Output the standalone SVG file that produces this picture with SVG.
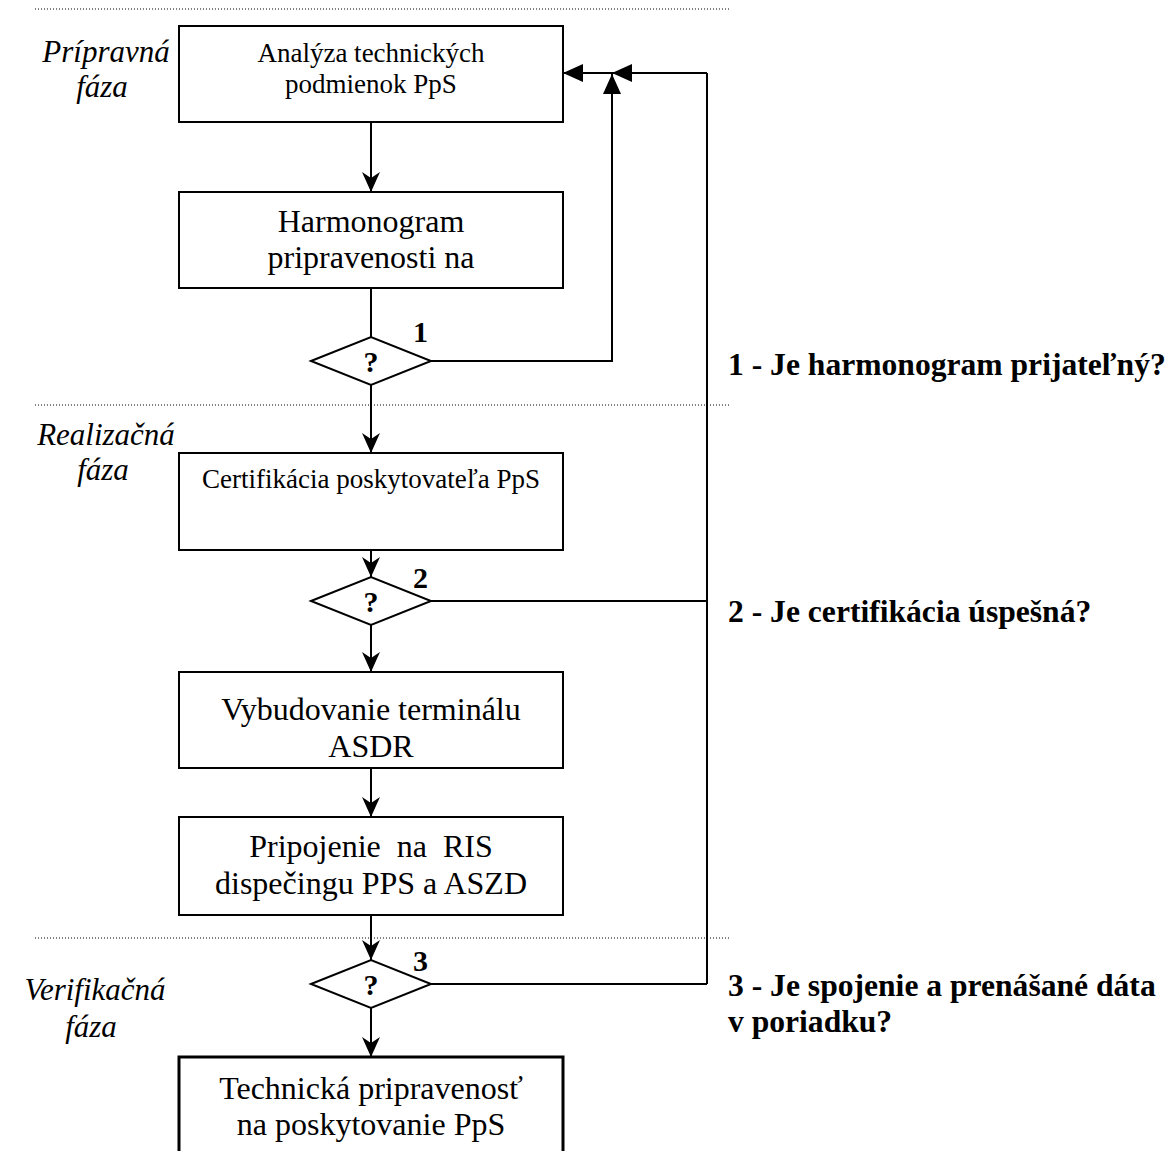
<svg xmlns="http://www.w3.org/2000/svg" width="1172" height="1151" viewBox="0 0 1172 1151">
<style>
.box{fill:#fff;stroke:#000;stroke-width:2}
.boxb{fill:#fff;stroke:#000;stroke-width:3}
.dia{fill:#fff;stroke:#000;stroke-width:2}
.ln{fill:none;stroke:#000;stroke-width:2}
.dot{fill:none;stroke:#000;stroke-width:1;stroke-dasharray:1 2}
.t{font-family:"Liberation Serif","Times New Roman",serif;fill:#000;text-anchor:middle;white-space:pre}
.tb{font-size:32px}
.ts{font-size:27px}
.ph{font-family:"Liberation Serif","Times New Roman",serif;font-style:italic;font-size:31px;text-anchor:middle;fill:#000}
.q{font-family:"Liberation Serif","Times New Roman",serif;font-weight:bold;font-size:30px;text-anchor:middle;fill:#000}
.n{font-family:"Liberation Serif","Times New Roman",serif;font-weight:bold;font-size:30px;fill:#000}
.lab{font-family:"Liberation Serif","Times New Roman",serif;font-weight:bold;font-size:31.6px;fill:#000}
</style>
<defs>
<marker id="tri" viewBox="0 0 20 20" refX="20" refY="10" markerWidth="20" markerHeight="20" markerUnits="userSpaceOnUse" orient="auto"><path d="M0,1 L20,10 L0,19 Z" fill="#000"/></marker>
<marker id="st" viewBox="0 0 20 20" refX="20" refY="10" markerWidth="20" markerHeight="20" markerUnits="userSpaceOnUse" orient="auto"><path d="M0,1 L20,10 L0,19 L6,10 Z" fill="#000"/></marker>
</defs>
<g id="phases">
<line class="dot" x1="35" y1="9" x2="730" y2="9"/>
<line class="dot" x1="35" y1="405" x2="730" y2="405"/>
<line class="dot" x1="35" y1="938" x2="730" y2="938"/>
<text class="ph" x="106" y="62">Prípravná</text>
<text class="ph" x="102" y="97">fáza</text>
<text class="ph" x="106" y="445">Realizačná</text>
<text class="ph" x="103" y="480">fáza</text>
<text class="ph" x="95" y="1000">Verifikačná</text>
<text class="ph" x="91" y="1037">fáza</text>
</g>
<g id="connectors">
<line class="ln" x1="371" y1="122" x2="371" y2="192" marker-end="url(#st)"/>
<line class="ln" x1="371" y1="288" x2="371" y2="337"/>
<line class="ln" x1="371" y1="385" x2="371" y2="453" marker-end="url(#st)"/>
<line class="ln" x1="371" y1="550" x2="371" y2="577" marker-end="url(#st)"/>
<line class="ln" x1="371" y1="625" x2="371" y2="672" marker-end="url(#st)"/>
<line class="ln" x1="371" y1="768" x2="371" y2="817" marker-end="url(#st)"/>
<line class="ln" x1="371" y1="915" x2="371" y2="960" marker-end="url(#st)"/>
<line class="ln" x1="371" y1="1008" x2="371" y2="1057" marker-end="url(#st)"/>
<path class="ln" d="M431,361 H612 V74" marker-end="url(#tri)"/>
<path class="ln" d="M707,73 H612" marker-end="url(#tri)"/>
<path class="ln" d="M612,73 H563" marker-end="url(#tri)"/>
<path class="ln" d="M707,73 V984"/>
<path class="ln" d="M431,601 H707"/>
<path class="ln" d="M431,984 H707"/>
</g>
<g id="n1">
<rect class="box" x="179" y="26" width="384" height="96"/>
<text class="t ts" x="371" y="62">Analýza technických</text>
<text class="t ts" x="371" y="93">podmienok PpS</text>
</g>
<g id="n2">
<rect class="box" x="179" y="192" width="384" height="96"/>
<text class="t tb" x="371" y="232">Harmonogram</text>
<text class="t tb" x="371" y="268">pripravenosti na</text>
</g>
<g id="d1">
<path class="dia" d="M311,361 L371,337 L431,361 L371,385 Z"/>
<text class="q" x="371" y="372">?</text>
<text class="n" x="413" y="342">1</text>
</g>
<g id="n3">
<rect class="box" x="179" y="453" width="384" height="97"/>
<text class="t ts" x="371" y="488">Certifikácia poskytovateľa PpS</text>
</g>
<g id="d2">
<path class="dia" d="M311,601 L371,577 L431,601 L371,625 Z"/>
<text class="q" x="371" y="612">?</text>
<text class="n" x="413" y="588">2</text>
</g>
<g id="n4">
<rect class="box" x="179" y="672" width="384" height="96"/>
<text class="t tb" x="371" y="720">Vybudovanie terminálu</text>
<text class="t tb" x="371" y="757">ASDR</text>
</g>
<g id="n5">
<rect class="box" x="179" y="817" width="384" height="98"/>
<text class="t tb" x="371" y="857">Pripojenie  na  RIS</text>
<text class="t tb" x="371" y="894">dispečingu PPS a ASZD</text>
</g>
<g id="d3">
<path class="dia" d="M311,984 L371,960 L431,984 L371,1008 Z"/>
<text class="q" x="371" y="995">?</text>
<text class="n" x="413" y="971">3</text>
</g>
<g id="n6">
<rect class="boxb" x="179" y="1057" width="384" height="110"/>
<text class="t tb" x="371" y="1099">Technická pripravenosť</text>
<text class="t tb" x="371" y="1135">na poskytovanie PpS</text>
</g>
<g id="legend">
<text class="lab" x="728" y="375">1 - Je harmonogram prijateľný?</text>
<text class="lab" x="728" y="622">2 - Je certifikácia úspešná?</text>
<text class="lab" x="728" y="996">3 - Je spojenie a prenášané dáta</text>
<text class="lab" x="728" y="1032">v poriadku?</text>
</g>
</svg>
